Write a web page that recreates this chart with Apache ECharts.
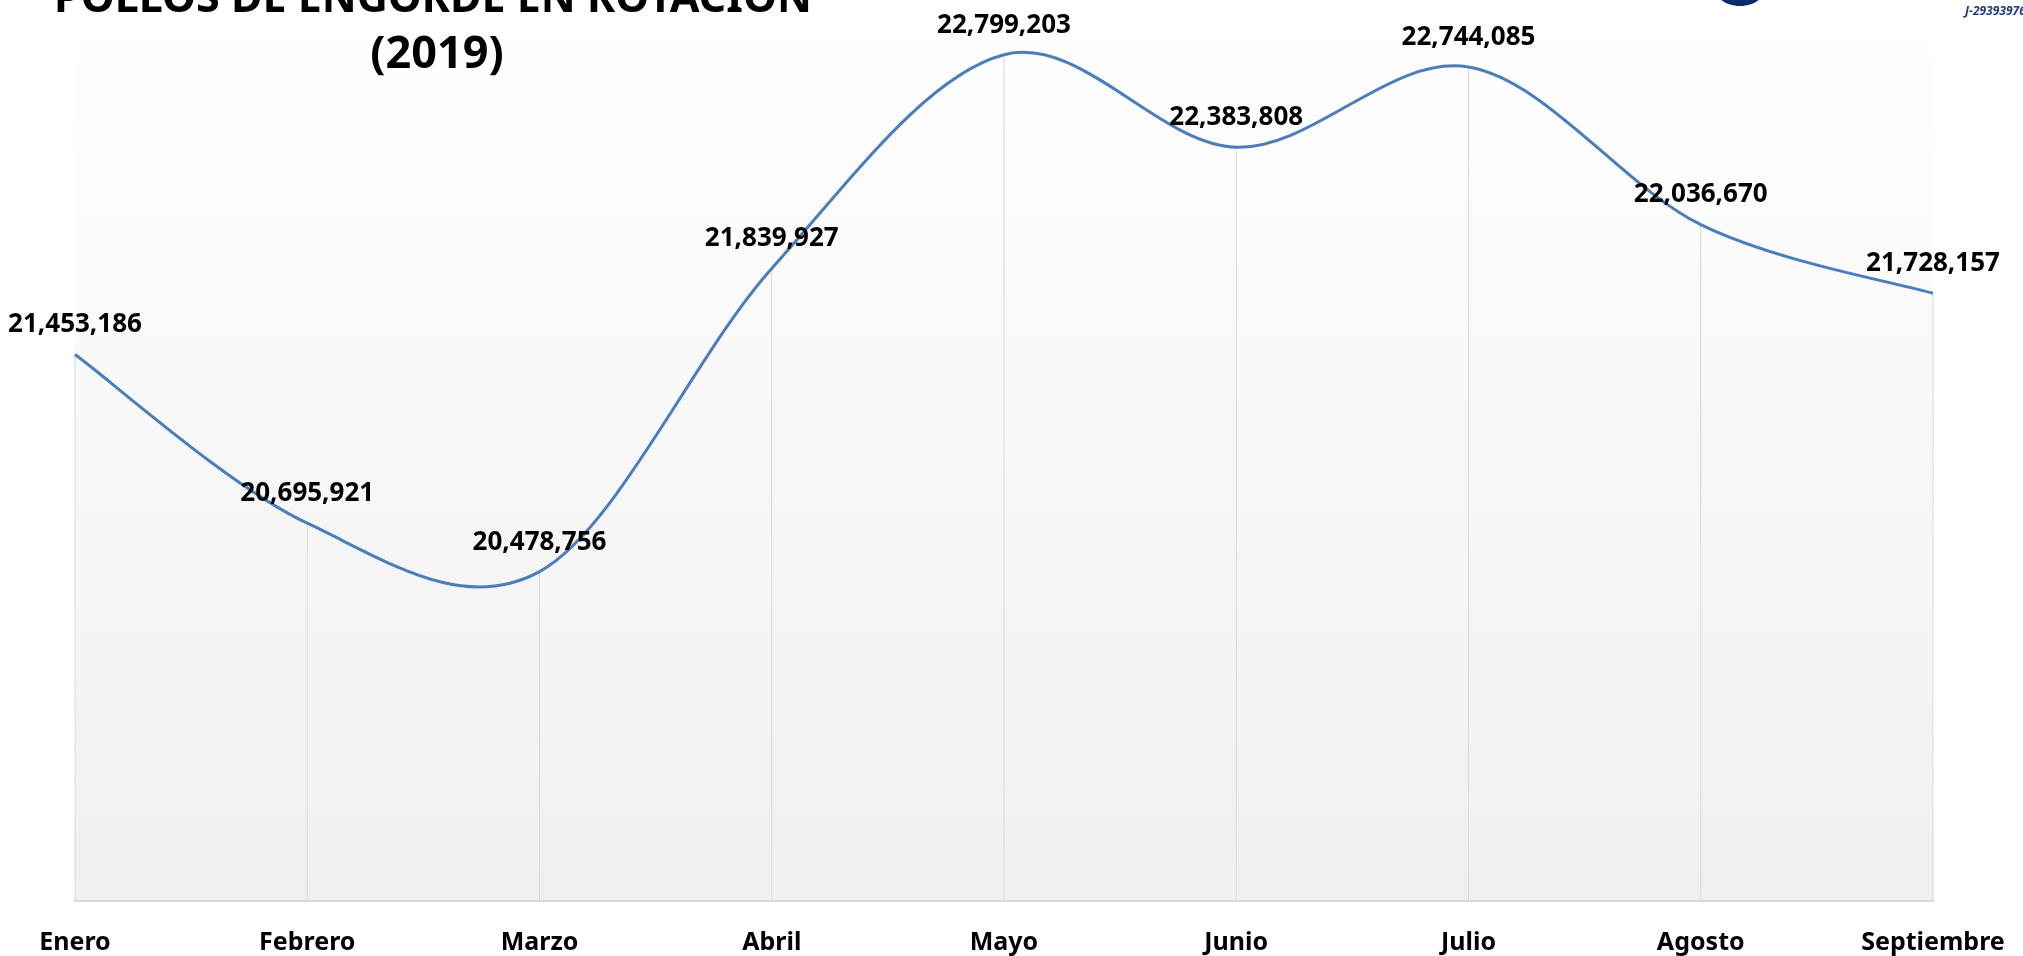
<!DOCTYPE html>
<html>
<head>
<meta charset="utf-8">
<title>Pollos de engorde en rotación (2019)</title>
<script src="https://cdn.jsdelivr.net/npm/echarts@6/dist/echarts.min.js"></script>
<style>
  html, body { margin: 0; padding: 0; background: #fff; }
  #chart { width: 2023px; height: 956px; }
</style>
</head>
<body>
<div id="chart"></div>
<script>
// datos del gráfico
const meses = ['Enero', 'Febrero', 'Marzo', 'Abril', 'Mayo', 'Junio', 'Julio', 'Agosto', 'Septiembre']
const pollos = [21453186, 20695921, 20478756, 21839927, 22799203, 22383808, 22744085, 22036670, 21728157]
const tituloLineas = ['POLLOS DE ENGORDE EN ROTACIÓN', '(2019)']
const rif = 'J-29393976'

const FONT = '"Noto Sans", "DejaVu Sans", sans-serif'
const LINE_COLOR = '#4a7ebb'

const chart = echarts.init(document.getElementById('chart'))

// curva suavizada tipo Excel (Catmull-Rom) sobre las coordenadas del eje
const renderCurva = (params, api) => {
  if (params.dataIndex !== 0) return
  const pts = pollos.map((v, i) => api.coord([i, v]))
  const n = pts.length
  let d = 'M' + pts[0][0] + ' ' + pts[0][1]
  for (let i = 0; i < n - 1; i++) {
    const p0 = pts[Math.max(i - 1, 0)]
    const p1 = pts[i]
    const p2 = pts[i + 1]
    const p3 = pts[Math.min(i + 2, n - 1)]
    const c1x = p1[0] + (p2[0] - p0[0]) / 6
    const c1y = p1[1] + (p2[1] - p0[1]) / 6
    const c2x = p2[0] - (p3[0] - p1[0]) / 6
    const c2y = p2[1] - (p3[1] - p1[1]) / 6
    d += ' C' + c1x + ' ' + c1y + ' ' + c2x + ' ' + c2y + ' ' + p2[0] + ' ' + p2[1]
  }
  return {
    type: 'path',
    shape: { pathData: d },
    style: {
      fill: 'none',
      stroke: LINE_COLOR,
      lineWidth: 3
    }
  }
}

const option = {
  animation: false,
  backgroundColor: '#ffffff',
  grid: {
    left: 75,
    right: 90,
    top: 10,
    bottom: 55,
    show: true,
    borderWidth: 0,
    backgroundColor: {
      type: 'linear',
      x: 0,
      y: 0,
      x2: 0,
      y2: 1,
      colorStops: [
        { offset: 0, color: '#ffffff' },
        { offset: 1, color: '#f0f0f0' }
      ]
    }
  },
  graphic: [
    {
      type: 'text',
      x: 433,
      y: 0,
      style: {
        text: tituloLineas[0],
        font: 'bold 43px ' + FONT,
        fill: '#000',
        align: 'center',
        verticalAlign: 'middle'
      }
    },
    {
      type: 'text',
      x: 437,
      y: 55,
      style: {
        text: tituloLineas[1],
        font: 'bold 45px ' + FONT,
        fill: '#000',
        align: 'center',
        verticalAlign: 'middle'
      }
    },
    // trozo del logo, cortado arriba
    {
      type: 'ellipse',
      shape: { cx: 1740, cy: -7, rx: 22, ry: 13 },
      style: { fill: '#0d2a6b' }
    },
    {
      type: 'text',
      x: 1965,
      y: 12,
      style: {
        text: rif,
        font: 'italic bold 12px ' + FONT,
        fill: '#1f3a7a',
        align: 'left',
        verticalAlign: 'middle'
      }
    }
  ],
  xAxis: {
    type: 'category',
    data: meses,
    boundaryGap: false,
    axisLine: {
      lineStyle: { color: '#d9d9d9', width: 2 }
    },
    axisTick: { show: false },
    splitLine: { show: false },
    axisLabel: {
      color: '#000',
      fontFamily: FONT,
      fontWeight: 'bold',
      fontSize: 25,
      margin: 29,
      interval: 0
    }
  },
  yAxis: {
    type: 'value',
    min: 19000000,
    max: 23000000,
    show: false,
    splitLine: { show: false }
  },
  series: [
    {
      // líneas de caída desde cada punto hasta el eje
      name: 'caida',
      type: 'bar',
      data: pollos,
      barWidth: 1,
      silent: true,
      itemStyle: { color: '#d9d9d9' },
      z: 1
    },
    {
      name: 'curva',
      type: 'custom',
      data: pollos,
      renderItem: renderCurva,
      silent: true,
      clip: false,
      z: 3
    },
    {
      // solo para las etiquetas de valores
      name: 'Pollos',
      type: 'line',
      data: pollos,
      symbol: 'circle',
      symbolSize: 1,
      lineStyle: { opacity: 0 },
      itemStyle: { color: 'rgba(0,0,0,0)' },
      label: {
        show: true,
        position: 'top',
        distance: 16,
        color: '#000',
        fontFamily: FONT,
        fontWeight: 'bold',
        fontSize: 26,
        formatter: p => p.value.toLocaleString('en-US')
      },
      z: 4
    }
  ]
}

chart.setOption(option)
</script>
</body>
</html>
